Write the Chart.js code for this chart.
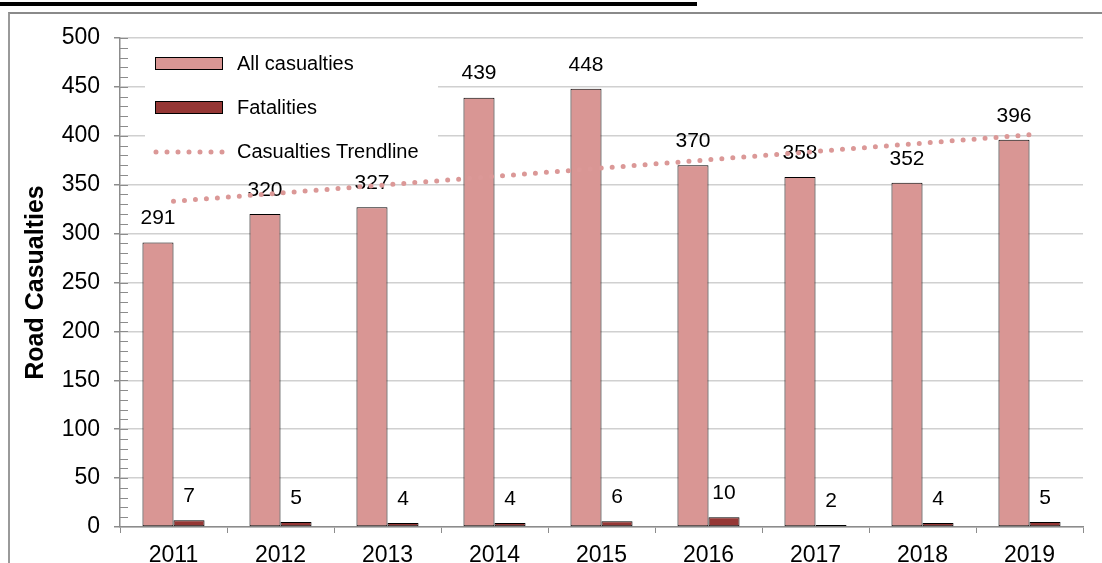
<!DOCTYPE html>
<html>
<head>
<meta charset="utf-8">
<script src="https://cdn.jsdelivr.net/npm/chart.js@4.4.1/dist/chart.umd.min.js"></script>
<style>
  html, body { margin: 0; padding: 0; background: #fff; overflow: hidden; }
  #wrap { position: relative; width: 1102px; height: 563px; overflow: hidden; }
  #rule { position: absolute; left: 0; top: 2px; width: 697px; height: 4px; background: #000; }
  #frame { position: absolute; left: 8px; top: 12px; width: 1200px; height: 700px;
           border-left: 2px solid #9a9a9a; border-top: 2px solid #8a8a8a; }
  #chart { position: absolute; left: 0; top: 0; }
</style>
</head>
<body>
<div id="wrap">
  <div id="rule"></div>
  <div id="frame"></div>
  <canvas id="chart" width="1102" height="585"></canvas>
</div>
<script>
const years = ['2011', '2012', '2013', '2014', '2015', '2016', '2017', '2018', '2019'];
const allCasualties = [291, 320, 327, 439, 448, 370, 358, 352, 396];
const fatalities = [7, 5, 4, 4, 6, 10, 2, 4, 5];
// linear trend of all casualties, start and end values
const trendline = [333, null, null, null, null, null, null, null, 401];

const FONT = '"Liberation Sans", Arial, sans-serif';
const PINK = '#D99694';
const DARK_RED = '#953735';
const AXIS_GREY = '#8c8c8c';

// value labels above each bar
const barLabels = {
    id: 'barLabels',
    beforeDatasetsDraw(chart) {
        const ctx = chart.ctx;
        ctx.save();
        ctx.font = '21px ' + FONT;
        ctx.fillStyle = '#000';
        ctx.textAlign = 'center';
        ctx.textBaseline = 'middle';
        chart.data.datasets.forEach((ds, i) => {
            if (ds.type === 'line') return;
            chart.getDatasetMeta(i).data.forEach((bar, j) => {
                ctx.fillText(String(ds.data[j]), bar.x, bar.y - 24);
            });
        });
        ctx.restore();
    }
};

// small inside ticks every 10 on the value axis
const minorTicks = {
    id: 'minorTicks',
    afterDraw(chart) {
        const y = chart.scales.y;
        const ctx = chart.ctx;
        const x0 = chart.chartArea.left;
        ctx.save();
        ctx.strokeStyle = AXIS_GREY;
        ctx.lineWidth = 1;
        ctx.beginPath();
        for (let v = 10; v <= 500; v += 10) {
            const py = Math.round(y.getPixelForValue(v)) + 0.5;
            ctx.moveTo(x0, py);
            ctx.lineTo(x0 + 8, py);
        }
        ctx.stroke();
        ctx.restore();
    }
};

// legend box sitting inside the plot area, top left
const insetLegend = {
    id: 'insetLegend',
    beforeDatasetsDraw(chart) {
        const ctx = chart.ctx;
        const left = 145, top = 44;
        ctx.save();
        ctx.fillStyle = '#fff';
        ctx.fillRect(left, top, 293, 126);
        ctx.font = '20px ' + FONT;
        ctx.textBaseline = 'middle';
        chart.data.datasets.forEach((ds, i) => {
            const cy = 64 + i * 44;
            if (ds.type === 'line') {
                ctx.strokeStyle = ds.borderColor;
                ctx.lineWidth = ds.borderWidth;
                ctx.lineCap = 'round';
                ctx.setLineDash([0, 11]);
                ctx.beginPath();
                ctx.moveTo(156, cy);
                ctx.lineTo(224, cy);
                ctx.stroke();
                ctx.setLineDash([]);
            } else {
                ctx.fillStyle = ds.backgroundColor;
                ctx.fillRect(155.5, cy - 6.5, 67, 12);
                ctx.strokeStyle = ds.borderColor;
                ctx.lineWidth = 1;
                ctx.strokeRect(155.5, cy - 6.5, 67, 12);
            }
            ctx.fillStyle = '#000';
            ctx.fillText(ds.label, 237, cy);
        });
        ctx.restore();
    }
};

new Chart(document.getElementById('chart'), {
    type: 'bar',
    data: {
        labels: years,
        datasets: [
            {
                label: 'All casualties',
                data: allCasualties,
                backgroundColor: PINK,
                borderColor: '#000',
                borderWidth: 1,
                borderSkipped: false,
                order: 2
            },
            {
                label: 'Fatalities',
                data: fatalities,
                backgroundColor: DARK_RED,
                borderColor: '#000',
                borderWidth: 1,
                borderSkipped: false,
                order: 2
            },
            {
                type: 'line',
                label: 'Casualties Trendline',
                data: trendline,
                spanGaps: true,
                borderColor: '#DB9897',
                borderWidth: 5,
                borderDash: [0, 11],
                borderCapStyle: 'round',
                pointRadius: 0,
                fill: false,
                order: 1
            }
        ]
    },
    options: {
        responsive: false,
        animation: false,
        events: [],
        layout: { padding: { top: 38, right: 19, bottom: 13, left: 0 } },
        datasets: {
            bar: { categoryPercentage: 0.58, barPercentage: 1.0 }
        },
        plugins: {
            legend: { display: false },
            tooltip: { enabled: false }
        },
        scales: {
            x: {
                offset: true,
                afterFit(scale) { scale.height = 45; },
                grid: {
                    offset: true,
                    drawOnChartArea: false,
                    tickLength: 6,
                    tickColor: AXIS_GREY
                },
                border: { color: AXIS_GREY, width: 1.5 },
                ticks: {
                    padding: 9,
                    color: '#000',
                    font: { family: FONT, size: 23 }
                }
            },
            y: {
                min: 0,
                max: 500,
                afterFit(scale) { scale.width = 120; },
                grid: {
                    color: '#d0d0d0',
                    lineWidth: 1.5,
                    tickLength: 6,
                    tickColor: AXIS_GREY
                },
                border: { color: AXIS_GREY, width: 1.5 },
                ticks: {
                    stepSize: 50,
                    padding: 14,
                    color: '#000',
                    font: { family: FONT, size: 23 }
                },
                title: {
                    display: true,
                    text: 'Road Casualties',
                    color: '#000',
                    font: { family: FONT, size: 25, weight: 'bold' },
                    padding: { top: 21, bottom: 0 }
                }
            }
        }
    },
    plugins: [barLabels, insetLegend, minorTicks]
});
</script>
</body>
</html>
